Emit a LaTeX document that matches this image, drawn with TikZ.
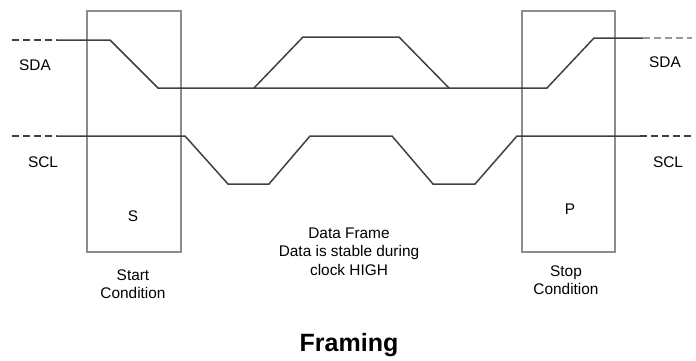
\documentclass[tikz,border=0pt]{standalone}
\usepackage{fontspec}
\setmainfont{Liberation Sans}
\usetikzlibrary{positioning}
\tikzstyle{frame} = [draw=black!45, line width=1pt]
\tikzstyle{wave} = [draw=black!75, line width=0.75pt]
\tikzstyle{tail} = [draw=black!75, line width=0.75pt, dash pattern=on 3.5pt off 2pt]
\tikzstyle{lbl} = [font=\fontsize{7.7}{9.3}\selectfont, align=center, inner sep=0pt]

\begin{document}
\begin{tikzpicture}[x=0.5pt,y=-0.5pt]
\useasboundingbox (0,0) rectangle (696,360);

% start and stop windows
\draw[frame] (87,11) rectangle (181,252);
\draw[frame] (522,11) rectangle (615,252);

% SDA
\draw[tail] (12,40) -- (57,40);
\draw[wave] (57,40) -- (110,40) -- (158,88) -- (547,88) -- (594,38) -- (643,38);
\draw[wave] (254,88) -- (303,37) -- (399,37) -- (449,88);
\draw[tail, draw=black!40] (643,38) -- (692,38);

% SCL
\draw[tail] (12,136) -- (57,136);
\draw[wave] (57,136) -- (185,136) -- (228,184) -- (269,184) -- (310,136) -- (392,136)
	-- (433,184) -- (475,184) -- (517,136) -- (640,136);
\draw[tail] (640,136) -- (692,136);

\node[lbl] (sdaL) at (35,65) {SDA};
\node[lbl] (sclL) at (43,162) {SCL};
\node[lbl] (sdaR) at (665,62) {SDA};
\node[lbl] (sclR) at (668,162) {SCL};

\node[lbl] (S) at (133,216) {S};
\node[lbl] (P) at (570,209) {P};
\node[lbl] (start) at (133,284) {Start\\Condition};
\node[lbl] (stop) at (566,280) {Stop\\Condition};
\node[lbl] (frame) at (349,251.5) {Data Frame\\Data is stable during\\clock HIGH};

\node[font=\fontsize{12.5}{15}\selectfont\bfseries] (title) at (349,345) {Framing};

\end{tikzpicture}
\end{document}
